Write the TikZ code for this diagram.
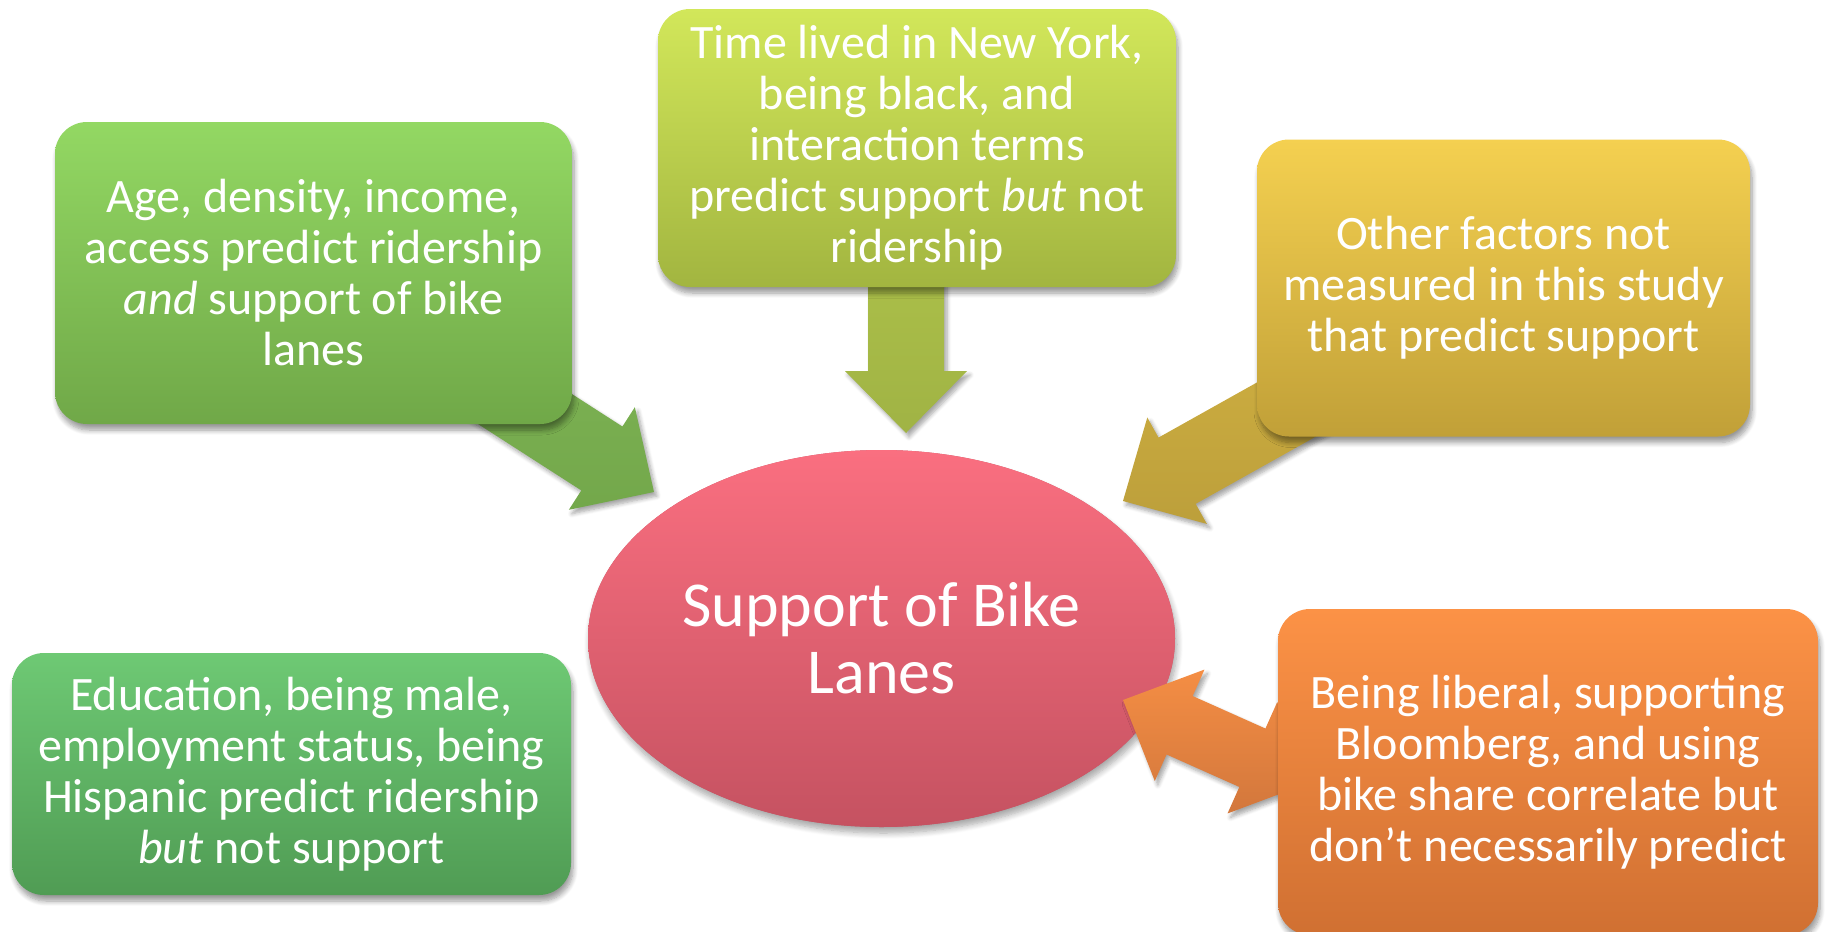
\documentclass[tikz,border=0pt]{standalone}
\usepackage{fontspec}
\setmainfont{Carlito}
\usepackage{tikz}
\usetikzlibrary{shapes,calc,positioning,shadows.blur}

% box and arrow colours, top and bottom of each gradient
\definecolor{ageTop}{HTML}{93D863}
\definecolor{ageBot}{HTML}{70A848}
\definecolor{ageArrow}{HTML}{7DB651}
\definecolor{timeTop}{HTML}{D2E75A}
\definecolor{timeBot}{HTML}{A2B540}
\definecolor{timeArrow}{HTML}{B2C74C}
\definecolor{otherTop}{HTML}{F4D050}
\definecolor{otherBot}{HTML}{C1A038}
\definecolor{otherArrow}{HTML}{D6B543}
\definecolor{eduTop}{HTML}{6EC974}
\definecolor{eduBot}{HTML}{509C54}
\definecolor{libTop}{HTML}{FC9246}
\definecolor{libBot}{HTML}{D07032}
\definecolor{supTop}{HTML}{FA6F80}
\definecolor{supBot}{HTML}{C55261}

\pgfdeclarelayer{under}
\pgfsetlayers{under,main}

% fat arrow from #1 to #2, half shaft width #3, style #4
\newcommand{\blockarrow}[4]{%
  \path ($(#2)!31pt!(#1)$) coordinate (hb);
  \path[#4] ($(#1)!#3!90:(#2)$) -- ($(hb)!#3!90:(#2)$) -- ($(hb)!30.5pt!90:(#2)$)
    -- (#2) -- ($(hb)!30.5pt!-90:(#2)$) -- ($(hb)!#3!-90:(#2)$) -- ($(#1)!#3!-90:(#2)$) -- cycle;
}
% same, with a head at both ends
\newcommand{\twowayarrow}[4]{%
  \path ($(#2)!31pt!(#1)$) coordinate (hb) ($(#1)!31pt!(#2)$) coordinate (ha);
  \path[#4] (#1) -- ($(ha)!30.5pt!90:(#2)$) -- ($(ha)!#3!90:(#2)$) -- ($(hb)!#3!90:(#2)$)
    -- ($(hb)!30.5pt!90:(#2)$) -- (#2) -- ($(hb)!30.5pt!-90:(#2)$) -- ($(hb)!#3!-90:(#2)$)
    -- ($(ha)!#3!-90:(#2)$) -- ($(ha)!30.5pt!-90:(#2)$) -- cycle;
}

\begin{document}
\begin{tikzpicture}[
    x=0.5pt, y=-0.5pt,
    every node/.style={text=white, align=center, inner sep=0pt},
    factor/.style={rectangle, rounded corners=16pt, font=\fontsize{24}{25.5}\selectfont,
        blur shadow={shadow xshift=1pt, shadow yshift=-3pt, shadow blur radius=2.5pt, shadow blur steps=8, shadow opacity=40}},
    outcome/.style={ellipse, font=\fontsize{32}{33.5}\selectfont},
    fat/.style={blur shadow={shadow xshift=1.5pt, shadow yshift=-2pt, shadow blur radius=2pt, shadow blur steps=6, shadow opacity=35}}
]
    \useasboundingbox (0,0) rectangle (1827,932);

    \node[outcome, minimum width=293.5pt, minimum height=188.5pt] (support) at (881.5,638.5) {Support of Bike\\Lanes};

    \node[factor, top color=ageTop, bottom color=ageBot, minimum width=258.5pt, minimum height=151pt]
        (age) at (313.5,273) {Age, density, income,\\access predict ridership\\\textit{and} support of bike\\lanes};
    \node[factor, top color=timeTop, bottom color=timeBot, minimum width=259pt, minimum height=139pt]
        (time) at (917,148) {Time lived in New York,\\being black, and\\interaction terms\\predict support \textit{but} not\\ridership};
    \node[factor, top color=otherTop, bottom color=otherBot, minimum width=246.5pt, minimum height=148.5pt]
        (other) at (1503.5,288) {Other factors not\\measured in this study\\that predict support};
    \node[factor, top color=eduTop, bottom color=eduBot, minimum width=279.5pt, minimum height=121pt]
        (edu) at (291.5,774) {Education, being male,\\employment status, being\\Hispanic predict ridership\\\textit{but} not support};
    \node[factor, top color=libTop, bottom color=libBot, minimum width=270pt, minimum height=163pt]
        (liberal) at (1548,772) {Being liberal, supporting\\Bloomberg, and using\\bike share correlate but\\don’t necessarily predict};

    % arrow tips at the ellipse
    \coordinate (tipA) at (654,492);
    \coordinate (tipB) at (906,433);
    \coordinate (tipC) at (1123,501);
    \coordinate (tipD) at (1123,700);
    \coordinate (backD) at (1309,783);

    \begin{pgfonlayer}{under}
        % the ellipse body (shadow first, gradient over it), then the arrows
        \path[fill=supBot, blur shadow={shadow xshift=1pt, shadow yshift=-3pt, shadow blur radius=3pt, shadow blur steps=8, shadow opacity=35}]
            (support.center) ellipse [x radius=146.75pt, y radius=94.25pt];
        \shade[top color=supTop, bottom color=supBot] (support.center) ellipse [x radius=146.75pt, y radius=94.25pt];
        \blockarrow{age.center}{tipA}{19pt}{fat, top color=ageArrow!95!white, bottom color=ageArrow!92!black}
        \blockarrow{tipB |- time.center}{tipB}{19pt}{fat, top color=timeArrow, bottom color=timeArrow!90!black}
        \blockarrow{other.center}{tipC}{19pt}{fat, top color=otherArrow, bottom color=otherArrow!88!black}
        \twowayarrow{backD}{tipD}{16pt}{fat, top color=libTop!97!black, bottom color=libBot!95!white}
    \end{pgfonlayer}
\end{tikzpicture}
\end{document}
